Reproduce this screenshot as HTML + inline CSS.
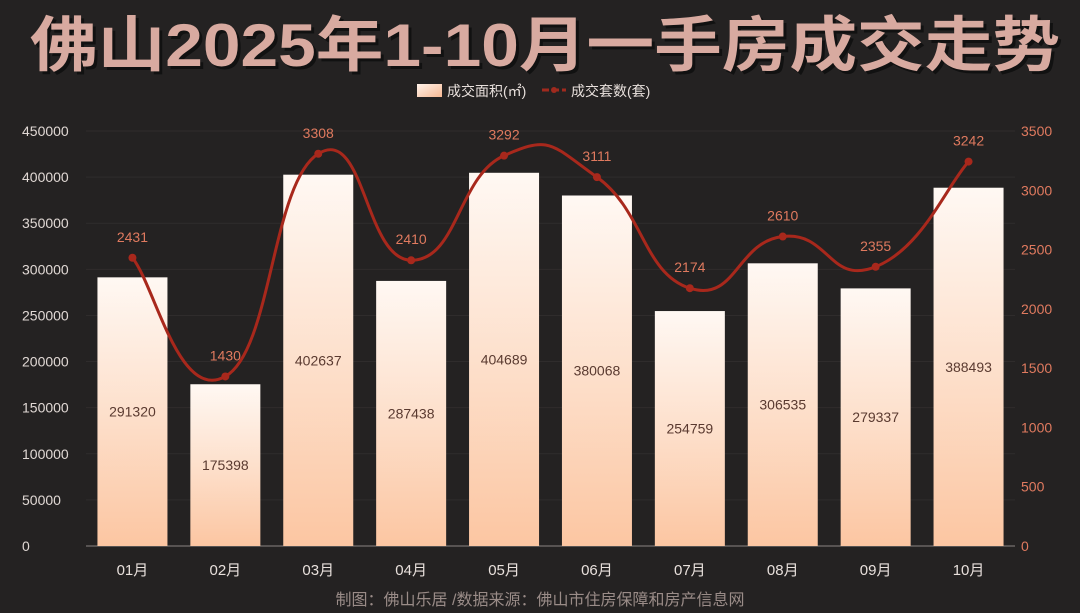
<!DOCTYPE html>
<html><head><meta charset="utf-8"><style>
html,body{margin:0;padding:0;background:#242222;}
svg{display:block;font-family:"Liberation Sans","Noto Sans CJK SC",sans-serif;}
</style></head><body>
<svg id="chart" width="1080" height="613" viewBox="0 0 1080 613" xmlns="http://www.w3.org/2000/svg">
<defs>
<linearGradient id="barGrad" x1="0" y1="0" x2="0" y2="1">
<stop offset="0" stop-color="#fff8f3"/><stop offset="0.5" stop-color="#fde0cc"/><stop offset="1" stop-color="#fcc6a2"/>
</linearGradient>
<linearGradient id="legGrad" x1="0" y1="0" x2="1" y2="1">
<stop offset="0" stop-color="#fff3ea"/><stop offset="1" stop-color="#f7b994"/>
</linearGradient>
</defs>
<rect width="1080" height="613" fill="#242222"/>
<text x="33" y="69" font-size="60" font-weight="bold" fill="#111" textLength="1030" lengthAdjust="spacingAndGlyphs">佛山2025年1-10月一手房成交走势</text>
<text x="30" y="66" font-size="60" font-weight="bold" fill="#d8aaa0" textLength="1030" lengthAdjust="spacingAndGlyphs">佛山2025年1-10月一手房成交走势</text>
<g>
<rect x="417" y="84" width="25" height="13" fill="url(#legGrad)"/>
<text x="447" y="96" font-size="14" fill="#e8e0dc">成交面积(㎡)</text>
<line x1="542" y1="90" x2="566" y2="90" stroke="#a02a1e" stroke-width="3" stroke-dasharray="7,3"/>
<circle cx="554" cy="90" r="3" fill="#a02a1e"/>
<text x="571" y="96" font-size="14" fill="#e8e0dc">成交套数(套)</text>
</g>
<g id="grid"></g><g id="bars"></g><g id="line"></g><g id="axes"></g>
<text x="540" y="605" font-size="16" fill="#9a8c88" text-anchor="middle">制图：佛山乐居 /数据来源：佛山市住房保障和房产信息网</text>
</svg>
<script>
const categories=["01月","02月","03月","04月","05月","06月","07月","08月","09月","10月"];
const areaValues=[291320,175398,402637,287438,404689,380068,254759,306535,279337,388493];
const countValues=[2431,1430,3308,2410,3292,3111,2174,2610,2355,3242];
const leftTicks=[0,50000,100000,150000,200000,250000,300000,350000,400000,450000];
const rightTicks=[0,500,1000,1500,2000,2500,3000,3500];
const NS="http://www.w3.org/2000/svg";
const X0=86,X1=1015,Y0=546,Y1=131;
const band=(X1-X0)/categories.length;
function xc(i){return X0+band*(i+0.5);}
function yl(v){return Y0-(v/450000)*(Y0-Y1);}
function yr(v){return Y0-(v/3500)*(Y0-Y1);}
function mk(tag,attrs,parent,txt){const e=document.createElementNS(NS,tag);for(const k in attrs)e.setAttribute(k,attrs[k]);if(txt!==undefined)e.textContent=txt;document.getElementById(parent).appendChild(e);return e;}
leftTicks.forEach(t=>{
  const g=mk('line',{x1:X0,x2:X1,y1:yl(t),y2:yl(t),stroke:t===0?'#8a8482':'#2f2c2c','stroke-width':1},'grid');
  
  
  const l=mk('text',{x:22,y:yl(t)+5,'font-size':14,fill:'#e0d8d4'},'axes',String(t));
  
  
});
rightTicks.forEach(t=>{
  const l=mk('text',{x:1021,y:yr(t)+5,'font-size':14,fill:'#e07a5f'},'axes',String(t));
  
  
});
categories.forEach((c,i)=>{
  const l=mk('text',{x:xc(i),y:575,'font-size':15,fill:'#e8e0dc','text-anchor':'middle'},'axes',c);
  
  
  const bw=70,y=yl(areaValues[i]);
  const b=mk('rect',{x:xc(i)-bw/2,y:y,width:bw,height:Y0-y,fill:'url(#barGrad)'},'bars');
  
  
  const v=mk('text',{x:xc(i),y:(y+Y0)/2+5,'font-size':14,fill:'#5a3a30','text-anchor':'middle'},'bars',String(areaValues[i]));
  
  
});
const pts=countValues.map((v,i)=>[xc(i),yr(v)]);
let d='M'+pts[0][0]+','+pts[0][1];
for(let i=0;i<pts.length-1;i++){
  const p0=pts[i-1]||pts[i],p1=pts[i],p2=pts[i+1],p3=pts[i+2]||pts[i+1];
  const t=0.25;
  const c1=[p1[0]+(p2[0]-p0[0])*t,p1[1]+(p2[1]-p0[1])*t];
  const c2=[p2[0]-(p3[0]-p1[0])*t,p2[1]-(p3[1]-p1[1])*t];
  d+=' C'+c1[0]+','+c1[1]+' '+c2[0]+','+c2[1]+' '+p2[0]+','+p2[1];
}
const path=mk('path',{d:d,fill:'none',stroke:'#a8281c','stroke-width':3},'line');


pts.forEach((p,i)=>{
  const c=mk('circle',{cx:p[0],cy:p[1],r:4,fill:'#a8281c'},'line');
  
  
  const l=mk('text',{x:p[0],y:p[1]-16,'font-size':14,fill:'#e07a5f','text-anchor':'middle'},'line',String(countValues[i]));
  
  
});
</script>
</body></html>
